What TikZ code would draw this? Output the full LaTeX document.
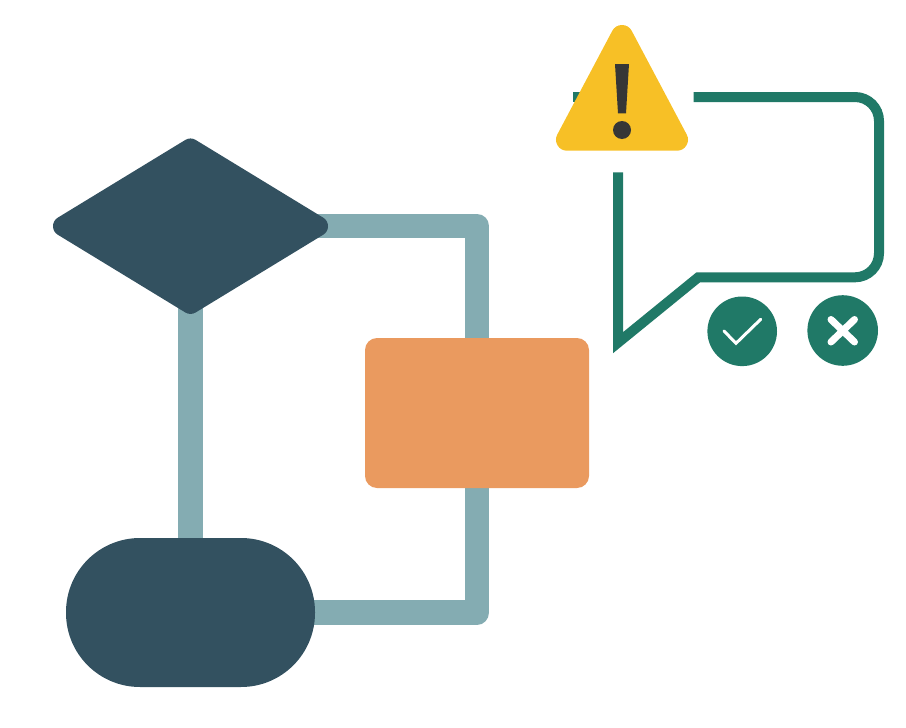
\documentclass[tikz,border=0pt]{standalone}
\usetikzlibrary{shapes.geometric,backgrounds}
\definecolor{navy}{HTML}{335160}
\definecolor{link}{HTML}{84ACB2}
\definecolor{peach}{HTML}{EA9A5F}
\definecolor{teal}{HTML}{207967}
\definecolor{amber}{HTML}{F7C026}
\definecolor{ink}{HTML}{363636}
\tikzset{
  shapebox/.style={inner sep=0pt,outer sep=0pt,draw=none},
  linkline/.style={draw=link,line width=24.5pt,line join=round},
  bubble/.style={draw=teal,line width=10pt},
  badge/.style={shapebox,circle,fill=teal},
}
\begin{document}
\begin{tikzpicture}[x=1pt,y=-1pt]
\useasboundingbox (0,0) rectangle (906,728);
\node[inner sep=0pt,outer sep=0pt,diamond,fill=navy,draw=navy,line width=20pt,line join=round,minimum width=255pt,minimum height=155.4pt] (decision) at (190.5,226.2) {};
\node[shapebox,rectangle,fill=navy,minimum width=249pt,minimum height=149pt,rounded corners=74pt] (terminal) at (190.5,612.5) {};
\node[shapebox,rectangle,fill=peach,minimum width=224pt,minimum height=150pt,rounded corners=12pt] (process) at (477,413) {};
\begin{scope}[on background layer]
  \draw[linkline] (decision.center) -- (terminal.center);
  \draw[linkline] (decision.center) -| (process.center);
  \draw[linkline] (process.center) |- (terminal.center);
\end{scope}
% speech bubble
\draw[bubble] (573.3,97) -- (600,97);
\draw[bubble] (693.5,97) [rounded corners=24pt] -- (879,97) -- (879,277.3) [sharp corners] -- (698.3,277.3) -- (618,342.7) -- (618,172.3);
% warning triangle
\filldraw[fill=amber,draw=amber,line width=22pt,line join=round] (622,36) -- (677,139.7) -- (567,139.7) -- cycle;
\fill[ink] (615,64) -- (629,64) -- (626,113.3) -- (618,113.3) -- cycle;
\fill[ink] (622,130) circle[radius=9];
% badges
\node[badge,minimum size=69.6pt] (accept) at (742.2,331.3) {};
\node[badge,minimum size=70.6pt] (reject) at (842.7,330.5) {};
\draw[white,line width=3pt,line cap=round,line join=miter] (724,331) -- (736,343.3) -- (760.7,319.3);
\draw[white,line width=7pt,line cap=round] (831,319.5) -- (854.5,342);
\draw[white,line width=7pt,line cap=round] (831,342) -- (854.5,319.5);
\end{tikzpicture}
\end{document}
